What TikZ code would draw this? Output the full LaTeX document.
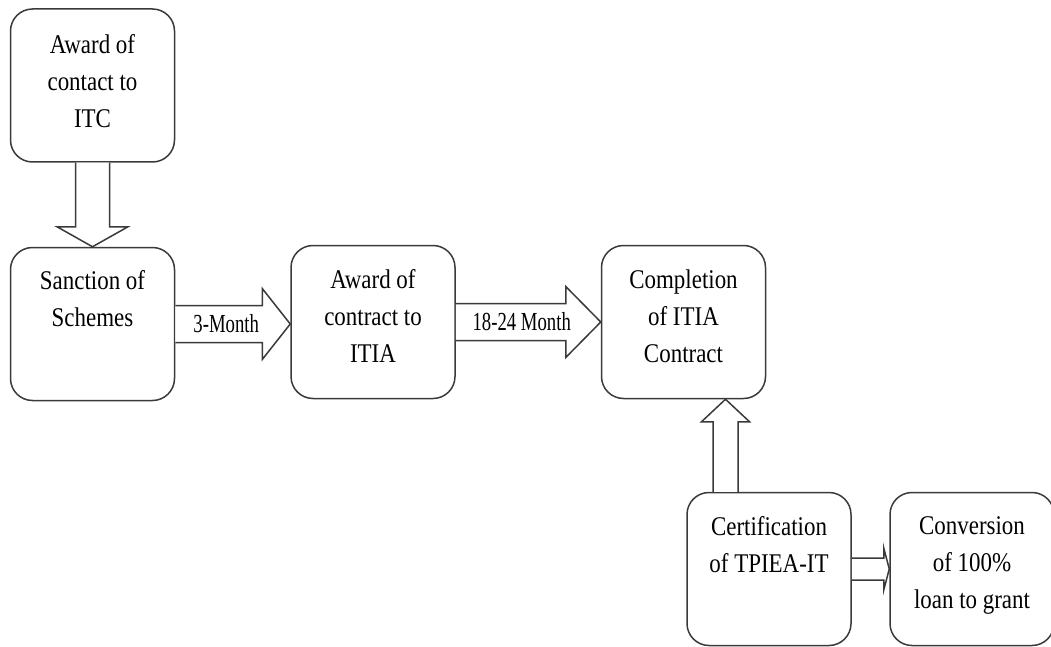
\documentclass[tikz,border=0pt]{standalone}
\usepackage{fontspec}
\setmainfont{Liberation Serif}[FakeStretch=0.85]
\newfontfamily\lblfont{Liberation Serif}[FakeStretch=0.72]
\usepackage{tikz}
\usetikzlibrary{calc}

\definecolor{linegray}{HTML}{3A3A3A}

\tikzset{
    box/.style={draw=linegray, line width=1.5pt, rounded corners=22pt,
        minimum width=164pt, minimum height=153pt, inner sep=0pt},
    boxtext/.style={anchor=north, align=center, inner sep=0pt,
        font=\fontsize{27}{37}\selectfont},
    fat/.style={draw=linegray, line width=1.5pt, fill=white},
    lbl/.style={inner sep=0pt, font=\lblfont\fontsize{26}{28}\selectfont}
}

\begin{document}
\begin{tikzpicture}[x=1pt, y=-1pt]

    \useasboundingbox (0,0) rectangle (1051,647);

    % Boxes
    \node[box] (itc) at (92.5,85.5) {};
    \node[box] (sanction) at (92.5,324) {};
    \node[box] (award) at (373,322) {};
    \node[box] (completion) at (683.5,322) {};
    \node[box] (cert) at (769,569) {};
    \node[box] (conversion) at (972,569) {};

    % Box texts
    \node[boxtext] (itc-t) at ([yshift=-26pt]itc.north) {Award of\\contact to\\ITC};
    \node[boxtext] (sanction-t) at ([yshift=-24pt]sanction.north) {Sanction of\\Schemes};
    \node[boxtext] (award-t) at ([yshift=-25pt]award.north) {Award of\\contract to\\ITIA};
    \node[boxtext] (completion-t) at ([yshift=-25pt]completion.north) {Completion\\of ITIA\\Contract};
    \node[boxtext] (cert-t) at ([yshift=-25pt]cert.north) {Certification\\of TPIEA-IT};
    \node[boxtext] (conversion-t) at ([yshift=-25pt]conversion.north) {Conversion\\of 100\%\\loan to grant};

    % Down arrow: ITC -> Sanction
    \draw[fat] ([shift={(-17,0)}]itc.south) -- ([shift={(-17,64)}]itc.south)
        -- ([shift={(-35.5,64)}]itc.south) -- (sanction.north)
        -- ([shift={(35.5,64)}]itc.south) -- ([shift={(17,64)}]itc.south)
        -- ([shift={(17,0)}]itc.south);

    % Sanction -> Award (3 months)
    \draw[fat] ([shift={(0,-18.5)}]sanction.east) -- ([shift={(87,-18.5)}]sanction.east)
        -- ([shift={(87,-35.5)}]sanction.east) -- (award.west |- sanction.east)
        -- ([shift={(87,35.5)}]sanction.east) -- ([shift={(87,18.5)}]sanction.east)
        -- ([shift={(0,18.5)}]sanction.east);
    \node[lbl] (m3) at ([shift={(51,0)}]sanction.east) {3-Month};

    % Award -> Completion (18-24 months)
    \draw[fat] ([shift={(0,-18.5)}]award.east) -- ([shift={(110,-18.5)}]award.east)
        -- ([shift={(110,-35.5)}]award.east) -- (completion.west |- award.east)
        -- ([shift={(110,35.5)}]award.east) -- ([shift={(110,18.5)}]award.east)
        -- ([shift={(0,18.5)}]award.east);
    \node[lbl] (m18) at ([shift={(66,0)}]award.east) {18-24 Month};

    % Up arrow: Certification -> Completion
    \coordinate (up) at ([xshift=-43.5pt]cert.north);
    \draw[fat] ([shift={(-12.5,0)}]up) -- ([shift={(-12.5,-70)}]up)
        -- ([shift={(-24,-70)}]up) -- (up |- completion.south)
        -- ([shift={(24,-70)}]up) -- ([shift={(12.5,-70)}]up)
        -- ([shift={(12.5,0)}]up);

    % Certification -> Conversion
    \draw[fat] ([shift={(0,-11)}]cert.east) -- ([shift={(32,-11)}]cert.east)
        -- ([shift={(32,-21)}]cert.east) -- (conversion.west |- cert.east)
        -- ([shift={(32,21)}]cert.east) -- ([shift={(32,11)}]cert.east)
        -- ([shift={(0,11)}]cert.east);

\end{tikzpicture}
\end{document}
